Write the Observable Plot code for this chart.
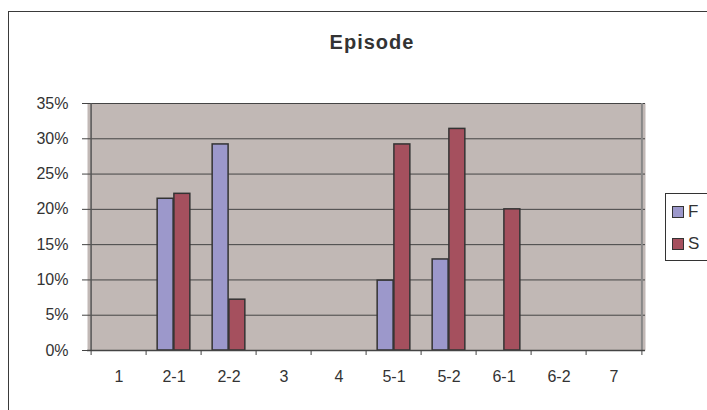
<!DOCTYPE html>
<html>
<head>
<meta charset="utf-8">
<script src="https://cdn.jsdelivr.net/npm/d3@7"></script>
<script src="https://cdn.jsdelivr.net/npm/@observablehq/plot@0.6"></script>
<style>
  html, body { margin: 0; padding: 0; background: #fff; overflow: hidden; }
  body { width: 707px; height: 410px; position: relative; font-family: "Liberation Sans", Arial, sans-serif; }
  #border { position: absolute; left: 8px; top: 11px; width: 760px; height: 460px; border: 1.5px solid #3a3a3a; box-sizing: border-box; }
  #title { position: absolute; left: 272px; width: 200px; top: 31px; text-align: center; font-weight: bold; font-size: 20px; letter-spacing: 1px; color: #333; }
  #chart { position: absolute; left: 0; top: 0; }
  #legend { position: absolute; left: 665px; top: 193px; width: 80px; height: 68px; border: 1px solid #333; box-sizing: border-box; background: #fff; font-size: 17px; color: #333; }
  .item { position: absolute; left: 6px; display: flex; align-items: center; }
  .sw { width: 10px; height: 10px; border: 1px solid #333; margin-right: 4px; }
</style>
</head>
<body>
<div id="border"></div>
<div id="title">Episode</div>
<div id="chart"></div>
<div id="legend"></div>
<script>
const categories = ["1", "2-1", "2-2", "3", "4", "5-1", "5-2", "6-1", "6-2", "7"];
const seriesNames = ["F", "S"];
const valuesF = [0, 0.215, 0.292, 0, 0, 0.099, 0.129, 0, 0, 0];
const valuesS = [0, 0.222, 0.072, 0, 0, 0.292, 0.314, 0.200, 0, 0];
const yTicks = [0, 0.05, 0.10, 0.15, 0.20, 0.25, 0.30, 0.35];
const colors = ["#9C98CB", "#A5505E"];

const width = 707, height = 410;
const marginLeft = 87, marginRight = 62, marginTop = 103, marginBottom = 60;
const bw = (width - marginLeft - marginRight) / categories.length;
const barW = bw * 0.3;

const dataF = categories.map((c, i) => ({cat: c, value: valuesF[i], series: "F"})).filter(d => d.value > 0);
const dataS = categories.map((c, i) => ({cat: c, value: valuesS[i], series: "S"})).filter(d => d.value > 0);

const chart = Plot.plot({
  width, height, marginLeft, marginRight, marginTop, marginBottom,
  style: {fontFamily: "Liberation Sans, Arial, sans-serif", fontSize: "16px", color: "#333", background: "transparent"},
  x: {domain: categories, paddingInner: 0, paddingOuter: 0, label: null},
  y: {domain: [0, 0.35], label: null},
  color: {domain: seriesNames, range: colors},
  marks: [
    Plot.frame({fill: "#C1B8B5", stroke: null}),
    Plot.gridY(yTicks, {stroke: "#444", strokeOpacity: 1, strokeWidth: 1}),
    Plot.ruleX([categories[categories.length - 1]], {dx: bw / 2, stroke: "#888", strokeWidth: 2}),
    Plot.barY(dataF, {x: "cat", y: "value", fill: "series", stroke: "#333", strokeWidth: 1.5, insetLeft: bw / 2 - barW, insetRight: bw / 2}),
    Plot.barY(dataS, {x: "cat", y: "value", fill: "series", stroke: "#333", strokeWidth: 1.5, insetLeft: bw / 2, insetRight: bw / 2 - barW}),
    Plot.ruleX([categories[0]], {dx: -bw / 2, stroke: "#555", strokeWidth: 1.5}),
    Plot.ruleY([0], {stroke: "#444", strokeWidth: 1.5}),
    Plot.axisY({ticks: yTicks, tickFormat: d3.format(".0%"), tickSize: 5, tickPadding: 14, stroke: "#444", fill: "#333", label: null}),
    Plot.axisX({tickSize: 5, text: null, dx: -bw / 2, stroke: "#444", label: null}),
    Plot.axisX([categories[categories.length - 1]], {tickSize: 5, text: null, dx: bw / 2, stroke: "#444", label: null}),
    Plot.axisX({tickSize: 0, tickPadding: 20, fill: "#333", label: null})
  ]
});
document.getElementById("chart").appendChild(chart);

const legend = document.getElementById("legend");
seriesNames.forEach((s, i) => {
  const item = document.createElement("div");
  item.className = "item";
  item.style.top = (i === 0 ? 8 : 40) + "px";
  const sw = document.createElement("div");
  sw.className = "sw";
  sw.style.background = colors[i];
  const t = document.createElement("span");
  t.textContent = s;
  item.appendChild(sw);
  item.appendChild(t);
  legend.appendChild(item);
});
</script>
</body>
</html>
